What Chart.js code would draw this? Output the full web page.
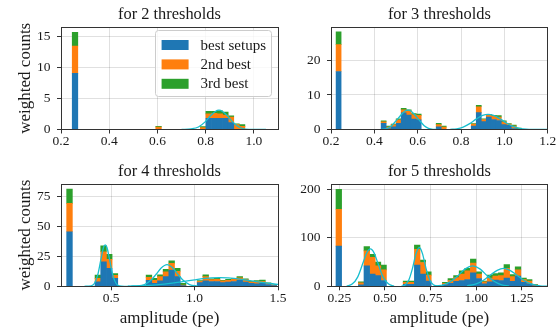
<!DOCTYPE html>
<html>
<head>
<meta charset="utf-8">
<script src="https://cdn.jsdelivr.net/npm/chart.js@4"></script>
<style>
  html, body { margin: 0; padding: 0; background: #ffffff; }
  #fig { position: relative; width: 556px; height: 330px; overflow: hidden; background: #ffffff; }
  #fig canvas { position: absolute; }
</style>
</head>
<body>
<div id="fig"></div>
<script>
// ---------------- data ----------------
const seriesNames = ['best setups', '2nd best', '3rd best'];

// 2 thresholds: histogram bins (left edge of bin 0, bin width) and weighted counts per bin
const binStart2 = 0.2235, binWidth2 = 0.0231;
const best2 = [
  0, 9.0, 0, 0, 0, 0, 0, 0, 0, 0,
  0, 0, 0, 0, 0, 0, 0, 0, 0, 0,
  0, 0, 0, 0, 0, 1.8, 1.8, 1.8, 1.8, 1.1,
  0, 0];
const second2 = [
  0, 4.4, 0, 0, 0, 0, 0, 0, 0, 0,
  0, 0, 0, 0, 0, 0, 0.4, 0, 0, 0,
  0, 0, 0, 0, 0.3, 0.7, 0.8, 0.7, 0.5, 0.9,
  0.8, 0.5];
const third2 = [
  0, 2.2, 0, 0, 0, 0, 0, 0, 0, 0,
  0, 0, 0, 0, 0, 0, 0.1, 0, 0, 0,
  0, 0, 0, 0, 0.15, 0.4, 0.3, 0.5, 0.5, 0.2,
  0.1, 0.3];
const kde2x = [0.70, 0.74, 0.77, 0.80, 0.82, 0.84, 0.855, 0.87, 0.89, 0.91, 0.93, 0.95, 0.98, 1.05];
const kde2y = [0, 0.1, 0.4, 1.3, 2.2, 2.9, 3.1, 2.9, 2.2, 1.3, 0.6, 0.2, 0.03, 0];

// 3 thresholds
const binStart3 = 0.2235, binWidth3 = 0.0231;
const best3 = [
  16.8, 0, 0, 0, 0, 0, 0, 0, 0, 1.8,
  0.2, 0.8, 1.8, 4.8, 4.2, 3.0, 2.8, 0, 0, 0,
  0.8, 0, 0, 0, 0, 0, 0, 1.0, 4.9, 2.3,
  3.6, 2.9, 2.6, 1.4, 1.2, 0.3, 0];
const second3 = [
  7.8, 0, 0, 0, 0, 0, 0, 0, 0, 0.4,
  0.5, 0.6, 1.0, 0.9, 1.2, 1.3, 1.3, 0, 0, 0,
  0.6, 0.7, 0, 0, 0, 0, 0, 0.6, 1.7, 0.6,
  0.6, 1.0, 1.0, 0.8, 0.4, 0.7, 0.1];
const third3 = [
  3.7, 0, 0, 0, 0, 0, 0, 0, 0, 0.3,
  0.3, 0.2, 0.3, 0.4, 0.3, 0.3, 0.4, 0, 0, 0,
  0.4, 0.3, 0, 0, 0, 0, 0, 0.1, 0.4, 0.2,
  0.2, 0.2, 0.4, 0.3, 0.1, 0.3, 0.3];
const kde3ax = [0.43, 0.46, 0.48, 0.50, 0.52, 0.54, 0.555, 0.57, 0.59, 0.61, 0.63, 0.65, 0.67, 0.69];
const kde3ay = [0.05, 0.35, 1.1, 2.5, 4.0, 5.3, 5.6, 5.3, 4.0, 2.5, 1.1, 0.35, 0.05, 0];
const kde3bx = [0.75, 0.78, 0.81, 0.84, 0.87, 0.90, 0.925, 0.95, 0.98, 1.01, 1.04, 1.07, 1.10, 1.14, 1.20];
const kde3by = [0.03, 0.2, 0.7, 1.7, 3.0, 4.1, 4.4, 4.1, 3.1, 1.9, 0.9, 0.35, 0.1, 0.02, 0];

// 4 thresholds
const binStart4 = 0.234, binWidth4 = 0.034;
const best4 = [
  45.3, 0, 0, 0, 0, 3.8, 20.4, 15.0, 6.6, 0,
  0, 0, 0, 0, 5.0, 2.5, 4.5, 8.0, 13.5, 8.0,
  0.5, 0, 0, 3.0, 4.5, 4.0, 4.0, 3.0, 3.5, 4.0,
  5.0, 3.5, 2.5, 2.0, 2.5, 1.5, 0.5];
const second4 = [
  23.6, 0, 0, 0, 0, 2.8, 8.3, 7.5, 2.5, 0,
  0, 0, 0, 0, 2.5, 2.5, 3.5, 4.0, 5.5, 4.5,
  0.5, 0, 0, 1.2, 3.5, 1.5, 1.8, 1.5, 1.5, 1.8,
  2.0, 2.0, 1.3, 2.0, 1.5, 0.8, 0.5];
const third4 = [
  11.8, 0, 0, 0, 0, 2.8, 5.0, 4.0, 1.5, 0,
  0, 0, 0, 0, 1.8, 1.6, 1.5, 2.0, 2.2, 2.5,
  1.5, 0, 0, 0.5, 1.5, 0.8, 0.8, 0.5, 0.7, 0.6,
  1.0, 0.7, 0.4, 0.8, 1.2, 0.5, 0.3];
const kde4ax = [0.34, 0.38, 0.40, 0.42, 0.44, 0.455, 0.465, 0.475, 0.49, 0.51, 0.53, 0.55, 0.58, 0.61];
const kde4ay = [0, 0.35, 2.3, 9.5, 23, 32.4, 34.5, 32.4, 23, 9.5, 2.3, 0.35, 0, 0];
const kde4bx = [0.62, 0.65, 0.70, 0.74, 0.77, 0.80, 0.835, 0.87, 0.90, 0.93, 0.97, 1.02];
const kde4by = [0, 0.16, 1.4, 5.2, 10, 15.2, 18, 15.2, 10, 5.2, 1.4, 0.16];
const kde4cx = [0.60, 0.70, 0.80, 0.90, 1.00, 1.10, 1.15, 1.20, 1.30, 1.40, 1.50];
const kde4cy = [0.16, 0.57, 1.56, 3.3, 5.4, 7.0, 7.2, 7.0, 5.4, 3.3, 1.56];

// 5 thresholds
const binStart5 = 0.2314, binWidth5 = 0.0307;
const best5 = [
  83, 0, 0, 0, 3, 42, 25, 22, 12, 0,
  0, 0, 4, 4, 44, 25, 11, 0, 0, 3,
  6, 10, 12, 14, 28, 16, 5, 9, 13, 12,
  17, 10, 21, 8, 5, 1];
const second5 = [
  76, 0, 0, 0, 4, 31, 35, 20, 22, 0,
  0, 0, 4, 4, 32, 24, 12, 0, 0, 3,
  6, 8, 13, 18, 20, 9, 4, 8, 8, 10,
  20, 10, 13, 6, 6, 2];
const third5 = [
  41, 0, 0, 0, 2, 9, 6, 8, 10, 0,
  0, 0, 3, 3, 9, 5, 7, 0, 0, 2,
  4, 4, 7, 5, 8, 5, 2, 6, 5, 6,
  8, 4, 6, 3, 3, 1];
const kde5ax = [0.29, 0.32, 0.35, 0.38, 0.40, 0.42, 0.44, 0.46, 0.49, 0.52, 0.55];
const kde5ay = [0.6, 4.5, 19, 49, 69, 77, 69, 49, 19, 4.5, 0.6];
const kde5bx = [0.59, 0.61, 0.63, 0.65, 0.67, 0.688, 0.705, 0.725, 0.745, 0.765, 0.79];
const kde5by = [0.4, 2.7, 12.4, 36, 67, 80, 68, 37, 13, 3, 0.25];
const kde5cx = [0.78, 0.82, 0.86, 0.90, 0.94, 0.98, 1.02, 1.06, 1.10, 1.14, 1.18];
const kde5cy = [0.7, 3, 9.8, 22, 36, 42, 36, 22, 9.8, 3, 0.7];
const kde5dx = [0.95, 1.00, 1.04, 1.08, 1.115, 1.15, 1.185, 1.22, 1.26, 1.30, 1.35, 1.39];
const kde5dy = [1, 5, 12.5, 24, 33, 37, 33, 24, 12.5, 5, 1, 0.2];

// ---------------- styling ----------------
const FONT = "'Liberation Serif', 'Times New Roman', serif";
const seriesColors = ['#1f77b4', '#ff7f0e', '#2ca02c'];
const curveColor = '#17becf';
const inkColor = '#1a1a1a';
const spineColor = '#333333';
const gridColor = 'rgba(0,0,0,0.12)';

Chart.defaults.font.family = FONT;
Chart.defaults.color = inkColor;

function crisp(v) { return Math.round(v - 0.5) + 0.5; }

// spines on all four sides of the plot area
const framePlugin = {
  id: 'frame',
  afterDatasetsDraw(chart) {
    const a = chart.chartArea, ctx = chart.ctx;
    ctx.save();
    ctx.strokeStyle = spineColor;
    ctx.lineWidth = 1;
    const l = crisp(a.left), r = crisp(a.right), t = crisp(a.top), b = crisp(a.bottom);
    ctx.strokeRect(l, t, r - l, b - t);
    ctx.restore();
  }
};

// panel heading drawn just above the plot area
const headingPlugin = {
  id: 'heading',
  afterDraw(chart, args, opts) {
    if (!opts || !opts.text) return;
    const a = chart.chartArea, ctx = chart.ctx;
    ctx.save();
    ctx.font = `${opts.size}px ${FONT}`;
    ctx.fillStyle = inkColor;
    ctx.textAlign = 'center';
    ctx.textBaseline = 'alphabetic';
    ctx.fillText(opts.text, (a.left + a.right) / 2, a.top - opts.gap);
    ctx.restore();
  }
};

// framed legend box in the upper right corner of the plot area
const boxLegendPlugin = {
  id: 'boxLegend',
  afterDraw(chart, args, opts) {
    if (!opts || !opts.display) return;
    const a = chart.chartArea, ctx = chart.ctx;
    const items = chart.data.datasets.filter(d => d.type === 'bar');
    ctx.save();
    ctx.font = `${opts.size}px ${FONT}`;
    const textW = Math.max(...items.map(d => ctx.measureText(d.label).width));
    const pad = 6, patchW = 27, patchH = 10, gap = 12, rowH = 19.4;
    const w = pad + patchW + gap + textW + pad;
    const h = 66;
    const x = a.right - 6 - w, y = a.top + 3;
    ctx.beginPath();
    ctx.roundRect(crisp(x), crisp(y), Math.round(w), Math.round(h), 3);
    ctx.fillStyle = 'rgba(255,255,255,0.8)';
    ctx.fill();
    ctx.strokeStyle = '#cccccc';
    ctx.lineWidth = 1;
    ctx.stroke();
    items.forEach((d, i) => {
      const cy = y + 15 + i * rowH;
      ctx.fillStyle = d.backgroundColor;
      ctx.fillRect(x + pad, cy - patchH / 2, patchW, patchH);
      ctx.fillStyle = inkColor;
      ctx.textAlign = 'left';
      ctx.textBaseline = 'alphabetic';
      ctx.fillText(d.label, x + pad + patchW + gap, cy + 4.5);
    });
    ctx.restore();
  }
};

function histDatasets(start, width, series) {
  return series.map((vals, s) => ({
    type: 'bar',
    label: seriesNames[s],
    data: vals.map((v, i) => ({ x: start + (i + 0.5) * width, y: v })),
    backgroundColor: seriesColors[s],
    borderWidth: 0,
    barPercentage: 1,
    categoryPercentage: 1,
    order: 1
  }));
}

function curveDatasets(curves) {
  return curves.map((c, j) => ({
    type: 'line',
    label: 'fit ' + j,
    data: c[0].map((x, i) => ({ x: x, y: c[1][i] })),
    borderColor: curveColor,
    borderWidth: 1.3,
    pointRadius: 0,
    fill: false,
    cubicInterpolationMode: 'monotone',
    stack: 'fit' + j,
    order: 0
  }));
}

const fig = document.getElementById('fig');

function makePanel(p) {
  const c = document.createElement('canvas');
  c.width = p.box.w; c.height = p.box.h;
  c.style.left = p.box.x + 'px'; c.style.top = p.box.y + 'px';
  c.style.width = p.box.w + 'px'; c.style.height = p.box.h + 'px';
  fig.appendChild(c);
  const box = p.box, plot = p.plot;
  new Chart(c, {
    type: 'bar',
    data: { datasets: [...histDatasets(p.binStart, p.binWidth, p.series), ...curveDatasets(p.curves)] },
    options: {
      responsive: false,
      animation: false,
      events: [],
      devicePixelRatio: 1,
      layout: { padding: { left: 0, top: plot.top - box.y, right: box.x + box.w - plot.right, bottom: 0 } },
      plugins: {
        legend: { display: false },
        tooltip: { enabled: false },
        heading: { text: p.title, size: 16.4, gap: 8 },
        boxLegend: { display: !!p.legend, size: 15 }
      },
      scales: {
        x: {
          type: 'linear', position: 'bottom',
          min: p.xMin, max: p.xMax,
          offset: false, stacked: true,
          grid: { offset: false, color: gridColor, lineWidth: 1, drawTicks: true, tickLength: 4, tickColor: spineColor, tickWidth: 1 },
          border: { display: false },
          ticks: {
            stepSize: p.xStep, includeBounds: false, autoSkip: false, maxRotation: 0, minRotation: 0,
            padding: 0, color: inkColor, font: { size: 13.5 },
            callback: v => Number(v).toFixed(p.xDec)
          },
          title: { display: !!p.xTitle, text: p.xTitle || '', font: { size: 17 }, color: inkColor, padding: { top: 0, bottom: 1.2 } },
          afterFit: s => { s.height = box.y + box.h - plot.bottom; }
        },
        y: {
          type: 'linear', position: 'left',
          min: 0, max: p.yMax, stacked: true,
          grid: { color: gridColor, lineWidth: 1, drawTicks: true, tickLength: 4, tickColor: spineColor, tickWidth: 1 },
          border: { display: false },
          ticks: { stepSize: p.yStep, includeBounds: false, autoSkip: false, padding: 6.5, color: inkColor, font: { size: 13.5 } },
          title: { display: !!p.yTitle, text: p.yTitle || '', font: { size: 17 }, color: inkColor, padding: { top: 15.8, bottom: 0 } },
          afterFit: s => { s.width = plot.left - box.x; }
        }
      }
    },
    plugins: [framePlugin, headingPlugin, boxLegendPlugin]
  });
}

makePanel({
  title: 'for 2 thresholds', legend: true, yTitle: 'weighted counts',
  box: { x: 0, y: 0, w: 300, h: 160 }, plot: { left: 61, right: 278, top: 27, bottom: 129.5 },
  binStart: binStart2, binWidth: binWidth2, series: [best2, second2, third2],
  curves: [[kde2x, kde2y]],
  xMin: 0.2, xMax: 1.1, xStep: 0.2, xDec: 1, yMax: 16.45, yStep: 5
});
makePanel({
  title: 'for 3 thresholds',
  box: { x: 290, y: 0, w: 290, h: 160 }, plot: { left: 331, right: 547.7, top: 27, bottom: 129.5 },
  binStart: binStart3, binWidth: binWidth3, series: [best3, second3, third3],
  curves: [[kde3ax, kde3ay], [kde3bx, kde3by]],
  xMin: 0.2, xMax: 1.2, xStep: 0.2, xDec: 1, yMax: 29.7, yStep: 10
});
makePanel({
  title: 'for 4 thresholds', yTitle: 'weighted counts', xTitle: 'amplitude (pe)',
  box: { x: 0, y: 158, w: 300, h: 172 }, plot: { left: 61, right: 278, top: 184, bottom: 286.3 },
  binStart: binStart4, binWidth: binWidth4, series: [best4, second4, third4],
  curves: [[kde4ax, kde4ay], [kde4bx, kde4by], [kde4cx, kde4cy]],
  xMin: 0.2, xMax: 1.5, xStep: 0.5, xDec: 1, yMax: 85, yStep: 25
});
makePanel({
  title: 'for 5 thresholds', xTitle: 'amplitude (pe)',
  box: { x: 290, y: 158, w: 290, h: 172 }, plot: { left: 331, right: 547.7, top: 184, bottom: 286.3 },
  binStart: binStart5, binWidth: binWidth5, series: [best5, second5, third5],
  curves: [[kde5ax, kde5ay], [kde5bx, kde5by], [kde5cx, kde5cy], [kde5dx, kde5dy]],
  xMin: 0.204, xMax: 1.392, xStep: 0.25, xDec: 2, yMax: 211, yStep: 100
});
</script>
</body>
</html>
